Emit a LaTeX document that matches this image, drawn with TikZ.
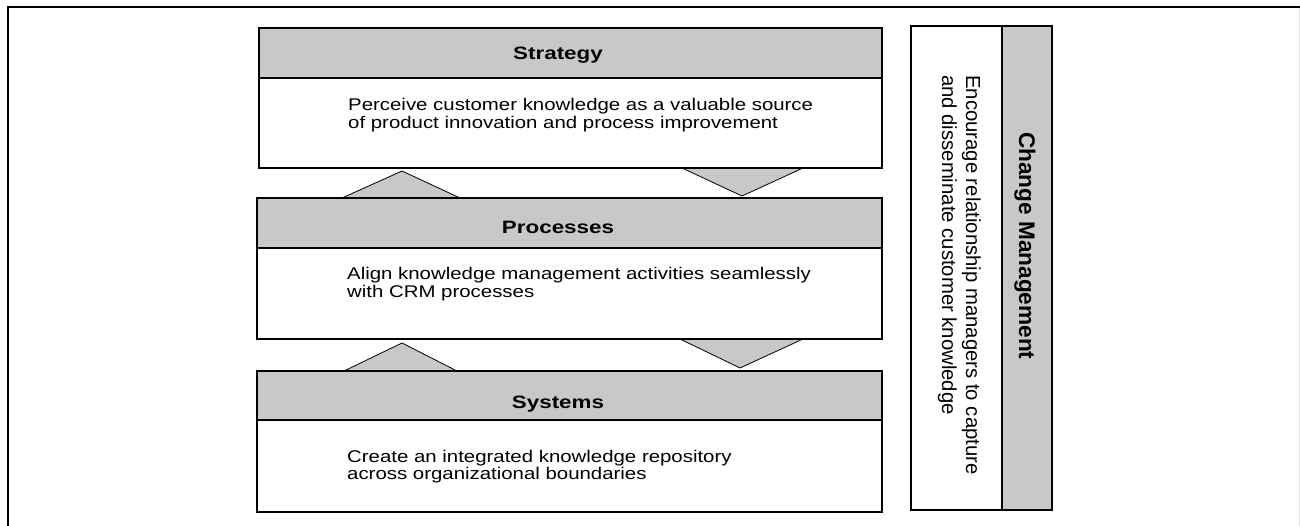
\documentclass[tikz,border=0pt]{standalone}
\usepackage{fontspec}
\setmainfont{Liberation Sans}
\definecolor{boxgray}{RGB}{200,200,200}
\begin{document}
\begin{tikzpicture}[x=1pt,y=-1pt,
  frame/.style={line width=2.2pt, black},
  hdr/.style={draw=black, line width=1.1pt, fill=boxgray, anchor=north west, inner sep=0pt, outer sep=0pt},
  bodybox/.style={draw=black, line width=1.1pt, fill=white, anchor=north west, inner sep=0pt, outer sep=0pt},
  tri/.style={draw=black, line width=0.8pt, fill=boxgray, line join=miter},
  head/.style={anchor=base, inner sep=0pt, font=\fontsize{22.4}{24}\selectfont\bfseries},
  body/.style={anchor=base west, inner sep=0pt, font=\fontsize{20.4}{20}\selectfont},
  vbody/.style={rotate=-90, anchor=base west, inner sep=0pt, font=\fontsize{20.3}{24}\selectfont},
  vhead/.style={rotate=-90, anchor=base west, inner sep=0pt, font=\fontsize{22.6}{24}\selectfont\bfseries},
]
\useasboundingbox (0,0) rectangle (1300,526);
\fill[white] (0,0) rectangle (1300,526);
% outer frame (cropped)
\draw[frame] (8,526) -- (8,7) -- (1300,7);
\draw[black!12, line width=0.6pt] (1299.4,8) -- (1299.4,526);

% triangles between layers
\draw[tri] (342,198) -- (402,171) -- (460,198);
\draw[tri] (344,371) -- (402,343) -- (457,371);
\draw[tri] (682,168) -- (742,196) -- (803,168);
\draw[tri] (680,339) -- (740,368) -- (803,339);

% Strategy
\node[bodybox, minimum width=623pt, minimum height=140pt] (sb) at (259,28) {};
\node[hdr, minimum width=623pt, minimum height=50pt] (sh) at (259,28) {};
\node[head] (st) at (558,60) {\scalebox{1}[0.8]{Strategy}};
\node[body] (stx) at (348,111) {\scalebox{1}[0.83]{\begin{tabular}[t]{@{}l@{}}Perceive customer knowledge as a valuable source\\ of product innovation and process improvement\end{tabular}}};

% Processes
\node[bodybox, minimum width=625pt, minimum height=141pt] (pb) at (257,198) {};
\node[hdr, minimum width=625pt, minimum height=50pt] (ph) at (257,198) {};
\node[head] (pt) at (558,234) {\scalebox{1}[0.8]{Processes}};
\node[body] (ptx) at (347,280) {\scalebox{1}[0.83]{\begin{tabular}[t]{@{}l@{}}Align knowledge management activities seamlessly\\ with CRM processes\end{tabular}}};

% Systems
\node[bodybox, minimum width=625pt, minimum height=141pt] (yb) at (257,371) {};
\node[hdr, minimum width=625pt, minimum height=49pt] (yh) at (257,371) {};
\node[head] (yt) at (558,408) {\scalebox{1}[0.8]{Systems}};
\node[body] (ytx) at (347,462) {\scalebox{1}[0.83]{\begin{tabular}[t]{@{}l@{}}Create an integrated knowledge repository\\ across organizational boundaries\end{tabular}}};

% Change Management
\node[bodybox, line width=1.5pt, minimum width=141pt, minimum height=484pt] (cb) at (911,26) {};
\node[hdr, line width=1.5pt, minimum width=50pt, minimum height=484pt] (ch) at (1002,26) {};
\node[vhead] (ct) at (1019,132) {Change Management};
\node[vbody] (ctx) at (966,75) {\begin{tabular}[t]{@{}l@{}}Encourage relationship managers to capture\\ and disseminate customer knowledge\end{tabular}};
\end{tikzpicture}
\end{document}
